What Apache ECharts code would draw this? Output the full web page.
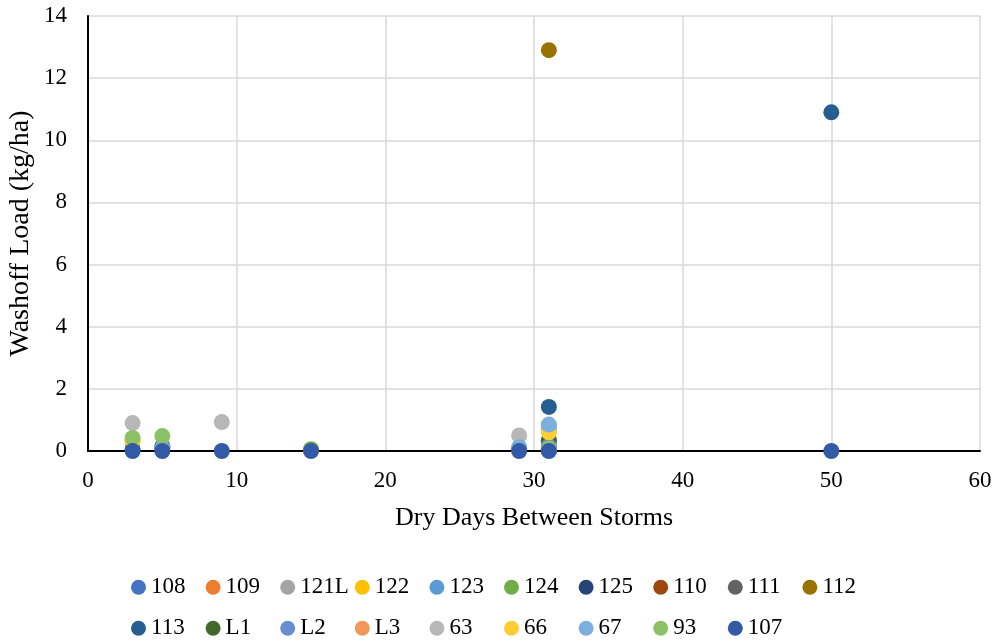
<!DOCTYPE html>
<html>
<head>
<meta charset="utf-8">
<script src="https://cdn.jsdelivr.net/npm/echarts@6/dist/echarts.min.js"></script>
<style>html,body{margin:0;padding:0;background:#fff}#c{width:998px;height:642px}</style>
</head>
<body>
<div id="c"></div>
<script>
// Series names (legend order)
const seriesNames = ['108','109','121L','122','123','124','125','110','111','112','113','L1','L2','L3','63','66','67','93','107'];
// Data per series: [dry days, washoff load kg/ha]
const s108 = [[31, 0.30]];
const s109 = [[31, 0.10]];
const s121L = [[31, 0.25]];
const s122 = [[3, 0.30]];
const s123 = [[31, 0.70]];
const s124 = [[15, 0.06], [31, 0.10]];
const s125 = [[5, 0.15], [31, 0.05]];
const s110 = [[31, 0.02]];
const s111 = [[31, 0.03]];
const s112 = [[31, 12.9]];
const s113 = [[3, 0.05], [5, 0.10], [29, 0.08], [31, 1.42], [50, 10.9]];
const sL1 = [[31, 0.35]];
const sL2 = [[31, 0.15]];
const sL3 = [[31, 0.05]];
const s63 = [[3, 0.90], [9, 0.93], [29, 0.50], [31, 0.78]];
const s66 = [[3, 0.35], [31, 0.60]];
const s67 = [[5, 0.10], [29, 0.12], [31, 0.85]];
const s93 = [[3, 0.42], [5, 0.48], [31, 0.08]];
const s107 = [[3, 0], [5, 0], [9, 0], [15, 0], [29, 0], [31, 0], [50, 0]];
const seriesData = [s108, s109, s121L, s122, s123, s124, s125, s110, s111, s112, s113, sL1, sL2, sL3, s63, s66, s67, s93, s107];
const colors = ['#4472C4','#ED7D31','#A5A5A5','#FFC000','#5B9BD5','#70AD47','#264478','#9E480E','#636363','#997300','#255E91','#43682B','#698ED0','#F1975A','#B7B7B7','#FFCD33','#7CAFDD','#8CC168','#335AA6'];
// Axis ticks
const xTicks = {min: 0, max: 60, interval: 10};
const yTicks = {min: 0, max: 14, interval: 2};

const font = '"Liberation Serif", "Times New Roman", serif';
const chart = echarts.init(document.getElementById('c'), null, {renderer: 'canvas'});
chart.setOption({
  animation: false,
  color: colors,
  textStyle: {fontFamily: font},
  grid: {left: 88, right: 18, top: 16, bottom: 191, containLabel: false, outerBoundsMode: 'none'},
  xAxis: {
    type: 'value', min: xTicks.min, max: xTicks.max, interval: xTicks.interval,
    name: 'Dry Days Between Storms', nameLocation: 'middle', nameGap: 54, nameMoveOverlap: false,
    nameTextStyle: {fontFamily: font, fontSize: 26, color: '#000', verticalAlign: 'top'},
    axisLine: {show: true, onZero: false, lineStyle: {color: '#000', width: 2}},
    axisTick: {show: false},
    axisLabel: {fontFamily: font, fontSize: 23, color: '#000', margin: 18},
    splitLine: {show: true, lineStyle: {color: '#d9d9d9', width: 1.5}}
  },
  yAxis: {
    type: 'value', min: yTicks.min, max: yTicks.max, interval: yTicks.interval,
    name: 'Washoff Load (kg/ha)', nameLocation: 'middle', nameGap: 53, nameMoveOverlap: false,
    nameTextStyle: {fontFamily: font, fontSize: 28, color: '#000', verticalAlign: 'bottom'},
    axisLine: {show: true, lineStyle: {color: '#000', width: 2}},
    axisTick: {show: false},
    axisLabel: {fontFamily: font, fontSize: 23, color: '#000', margin: 21},
    splitLine: {show: true, lineStyle: {color: '#d9d9d9', width: 1.5}}
  },
  legend: {
    left: 126, top: 564, width: 760,
    itemWidth: 15, itemHeight: 15, itemGap: 4.6,
    icon: 'circle',
    textStyle: {fontFamily: font, fontSize: 23, color: '#000', width: 50, lineHeight: 36.4},
    data: seriesNames
  },
  series: seriesNames.map((n, i) => ({
    name: n, type: 'scatter', data: seriesData[i], symbolSize: 16,
    itemStyle: {color: colors[i], opacity: 1}
  }))
});
</script>
</body>
</html>
